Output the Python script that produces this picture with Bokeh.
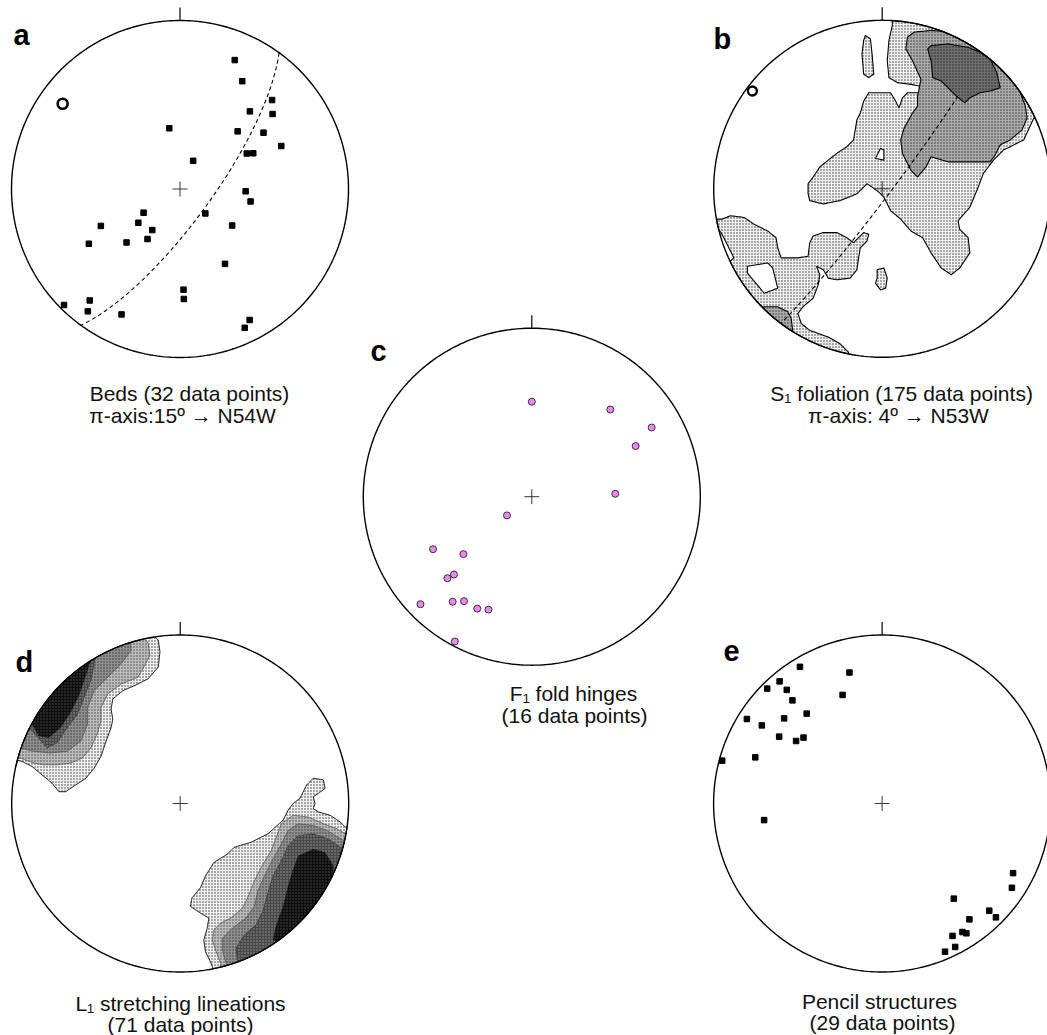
import numpy as np
from bokeh.plotting import figure
from bokeh.models import Range1d
from bokeh.core.properties import value
from bokeh.embed import file_html
from bokeh.resources import INLINE

# ---------------- data (trend / plunge in degrees) ----------------
A_TREND = [23, 30, 46, 42, 51, 350, 45, 56, 67, 62, 64, 25, 92, 100, 134, 237,
           231, 245, 214, 125, 213, 239, 225, 149, 178, 178, 225, 219, 217, 205, 152, 155]
A_PLUNGE = [18, 27, 25, 38, 30, 60, 50, 40, 35, 53, 50, 75, 58, 55, 73, 69,
            64, 47, 66, 59, 61, 37, 53, 47, 40, 35, 3, 16, 10, 19, 13, 10]
A_PI = (306, 15)          # pi-axis: 15 -> N54W
B_PI = (307, 4)           # pi-axis: 4 -> N53W

C_TREND = [0, 42, 60, 64, 88, 233, 242, 230, 225, 226, 226, 217, 213, 206, 201, 208]
C_PLUNGE = [43, 31, 19, 32, 49, 75, 34, 46, 35, 31, 9, 23, 27, 27, 29, 3]

E_TREND = [329, 346, 320, 315, 320, 340, 319, 320, 302, 311, 303, 303, 310, 306,
           290, 285, 262, 118, 123, 143, 143, 135, 135, 152, 148, 147, 153, 157]
E_PLUNGE = [6, 21, 6, 4, 13, 32, 20, 31, 6, 24, 16, 28, 39, 37,
            21, 2, 30, 13, 9, 30, 15, 11, 5, 12, 11, 9, 5, 5]

# ---------------- density contours (east, north; units of net radius) ----------------
B_L1_MAIN = [(0.06, 1.05), (1.09, 1.05), (1.09, 0.43), (0.90, 0.42), (0.84, 0.29), (0.72, 0.23),
             (0.66, 0.17), (0.60, 0.09), (0.57, 0.01), (0.52, -0.11), (0.45, -0.19), (0.46, -0.24),
             (0.51, -0.29), (0.52, -0.38), (0.46, -0.47), (0.41, -0.51), (0.35, -0.47), (0.29, -0.38),
             (0.24, -0.29), (0.17, -0.25), (0.11, -0.18), (0.05, -0.13), (0.01, -0.05), (-0.02, -0.02),
             (-0.06, 0.01), (-0.09, 0.03), (-0.15, -0.03), (-0.25, -0.07), (-0.35, -0.09), (-0.43, -0.07),
             (-0.44, -0.03), (-0.44, 0.03), (-0.41, 0.07), (-0.37, 0.13), (-0.32, 0.17), (-0.27, 0.21),
             (-0.21, 0.25), (-0.17, 0.29), (-0.16, 0.35), (-0.15, 0.41), (-0.13, 0.45), (-0.11, 0.52),
             (-0.08, 0.57), (-0.01, 0.57), (0.05, 0.57), (0.08, 0.52), (0.10, 0.48), (0.12, 0.54),
             (0.15, 0.57), (0.22, 0.57), (0.24, 0.60), (0.22, 0.61), (0.17, 0.62), (0.09, 0.63),
             (0.04, 0.66), (0.03, 0.76), (0.04, 0.88), (0.06, 0.97)]
B_L1_MAIN_HOLE = [(-0.04, 0.18), (-0.01, 0.24), (0.01, 0.23), (0.01, 0.17)]
B_L1_TOP = [(-0.10, 0.91), (-0.07, 0.89), (-0.06, 0.80), (-0.05, 0.68), (-0.08, 0.66),
            (-0.11, 0.68), (-0.12, 0.80), (-0.11, 0.88)]
B_L1_SMALL = [(-0.03, -0.48), (0.01, -0.47), (0.03, -0.53), (0.02, -0.59), (-0.01, -0.60),
              (-0.04, -0.56), (-0.03, -0.53)]
B_L1_SW = [(-1.01, -0.18), (-0.95, -0.18), (-0.90, -0.16), (-0.82, -0.17), (-0.76, -0.21),
           (-0.68, -0.25), (-0.63, -0.29), (-0.62, -0.35), (-0.60, -0.41), (-0.50, -0.41),
           (-0.44, -0.40), (-0.43, -0.32), (-0.41, -0.28), (-0.35, -0.26), (-0.27, -0.26),
           (-0.21, -0.29), (-0.17, -0.32), (-0.11, -0.26), (-0.08, -0.27), (-0.09, -0.31),
           (-0.13, -0.35), (-0.14, -0.41), (-0.15, -0.48), (-0.19, -0.53), (-0.27, -0.54),
           (-0.32, -0.53), (-0.35, -0.48), (-0.39, -0.46), (-0.37, -0.51), (-0.38, -0.57),
           (-0.41, -0.65), (-0.47, -0.70), (-0.50, -0.74), (-0.48, -0.80), (-0.43, -0.84),
           (-0.32, -0.88), (-0.25, -0.92), (-0.20, -0.97), (-0.20, -1.10), (-1.10, -0.60),
           (-0.88, -0.41), (-0.90, -0.37), (-0.94, -0.29), (-0.97, -0.24)]
B_L1_SW_HOLE = [(-0.80, -0.46), (-0.68, -0.44), (-0.65, -0.47), (-0.62, -0.59), (-0.70, -0.62),
                (-0.75, -0.56), (-0.80, -0.50)]
B_L2_NE = [(0.15, 0.90), (0.19, 0.93), (0.29, 0.94), (0.41, 0.93), (0.52, 0.89), (0.61, 0.82),
           (0.70, 0.74), (0.77, 0.65), (0.82, 0.57), (0.85, 0.49), (0.86, 0.42), (0.83, 0.35),
           (0.76, 0.29), (0.70, 0.26), (0.67, 0.20), (0.64, 0.16), (0.49, 0.16), (0.39, 0.16),
           (0.29, 0.19), (0.26, 0.13), (0.21, 0.07), (0.17, 0.11), (0.12, 0.21), (0.11, 0.29),
           (0.13, 0.36), (0.18, 0.45), (0.21, 0.49), (0.21, 0.55), (0.23, 0.65), (0.18, 0.76),
           (0.14, 0.83)]
B_L2_SW = [(-0.70, -0.70), (-0.62, -0.70), (-0.56, -0.73), (-0.54, -0.77), (-0.53, -0.85),
           (-0.60, -0.95), (-0.80, -0.75)]
B_L3_NE = [(0.27, 0.83), (0.29, 0.85), (0.39, 0.86), (0.51, 0.84), (0.58, 0.81), (0.64, 0.77),
           (0.68, 0.69), (0.70, 0.60), (0.64, 0.58), (0.58, 0.57), (0.52, 0.54), (0.49, 0.51),
           (0.44, 0.55), (0.41, 0.58), (0.35, 0.64), (0.30, 0.66), (0.29, 0.76)]

D_NW_L1 = [(-0.19, 1.03), (-0.13, 0.97), (-0.12, 0.90), (-0.13, 0.81), (-0.19, 0.74), (-0.27, 0.70),
           (-0.34, 0.67), (-0.40, 0.62), (-0.41, 0.56), (-0.40, 0.50), (-0.41, 0.45), (-0.44, 0.37),
           (-0.47, 0.28), (-0.51, 0.21), (-0.56, 0.15), (-0.62, 0.11), (-0.68, 0.07), (-0.72, 0.07),
           (-0.76, 0.12), (-0.82, 0.17), (-0.88, 0.22), (-0.94, 0.25), (-0.98, 0.26),
           (-1.10, 0.25), (-1.10, 1.10), (-0.19, 1.10)]
D_NW_L2 = [(-0.25, 1.04), (-0.19, 0.95), (-0.18, 0.88), (-0.21, 0.82), (-0.25, 0.75), (-0.35, 0.71),
           (-0.43, 0.65), (-0.47, 0.57), (-0.47, 0.49), (-0.49, 0.42), (-0.53, 0.33), (-0.58, 0.27),
           (-0.65, 0.24), (-0.73, 0.23), (-0.81, 0.23), (-0.87, 0.24), (-0.95, 0.27),
           (-1.10, 0.27), (-1.10, 1.10), (-0.25, 1.10)]
D_NW_L3 = [(-0.31, 1.06), (-0.29, 0.91), (-0.35, 0.83), (-0.43, 0.75), (-0.51, 0.67), (-0.55, 0.57),
           (-0.55, 0.47), (-0.59, 0.37), (-0.67, 0.31), (-0.77, 0.30), (-0.87, 0.31), (-0.95, 0.33),
           (-1.10, 0.33), (-1.10, 1.10), (-0.31, 1.10)]
D_NW_L4 = [(-0.50, 0.91), (-0.51, 0.83), (-0.53, 0.73), (-0.57, 0.63), (-0.61, 0.53), (-0.67, 0.45),
           (-0.73, 0.36), (-0.79, 0.33), (-0.87, 0.42), (-0.90, 0.45), (-1.10, 0.45), (-0.50, 1.10)]
D_NW_L5 = [(-0.52, 0.88), (-0.56, 0.76), (-0.60, 0.64), (-0.65, 0.54), (-0.71, 0.45), (-0.78, 0.39),
           (-0.84, 0.40), (-0.89, 0.49), (-0.85, 0.75)]
D_SE_L1 = [(0.21, -1.02), (0.18, -0.94), (0.15, -0.88), (0.14, -0.81), (0.16, -0.74), (0.17, -0.68),
           (0.12, -0.65), (0.06, -0.61), (0.07, -0.56), (0.12, -0.50), (0.15, -0.43), (0.20, -0.35),
           (0.28, -0.30), (0.32, -0.26), (0.42, -0.23), (0.52, -0.18), (0.61, -0.10), (0.64, -0.04),
           (0.67, 0.00), (0.71, 0.03), (0.75, 0.11), (0.79, 0.15), (0.85, 0.14), (0.86, 0.09),
           (0.82, 0.06), (0.79, 0.04), (0.80, 0.00), (0.79, -0.03), (0.82, -0.05), (0.89, -0.07),
           (0.95, -0.11), (0.99, -0.15), (1.10, -0.15), (1.10, -1.10), (0.21, -1.10)]
D_SE_L2 = [(0.24, -1.02), (0.24, -0.95), (0.21, -0.87), (0.19, -0.81), (0.20, -0.75), (0.24, -0.71),
           (0.30, -0.68), (0.37, -0.62), (0.40, -0.56), (0.44, -0.46), (0.48, -0.38), (0.54, -0.28),
           (0.57, -0.20), (0.60, -0.12), (0.67, -0.07), (0.76, -0.08), (0.85, -0.12), (0.93, -0.15),
           (0.98, -0.18), (1.10, -0.18), (1.10, -1.10), (0.24, -1.10)]
D_SE_L3 = [(0.29, -1.02), (0.27, -0.94), (0.25, -0.87), (0.25, -0.80), (0.31, -0.74), (0.39, -0.68),
           (0.44, -0.61), (0.46, -0.52), (0.50, -0.43), (0.55, -0.33), (0.60, -0.24), (0.64, -0.16),
           (0.70, -0.12), (0.79, -0.13), (0.87, -0.16), (0.97, -0.22), (1.10, -0.22), (1.10, -1.10),
           (0.29, -1.10)]
D_SE_L4 = [(0.36, -1.02), (0.34, -0.93), (0.33, -0.86), (0.38, -0.78), (0.45, -0.72), (0.49, -0.64),
           (0.52, -0.53), (0.55, -0.43), (0.60, -0.34), (0.64, -0.25), (0.70, -0.19), (0.79, -0.18),
           (0.88, -0.21), (0.95, -0.26), (1.10, -0.26), (1.10, -1.10), (0.36, -1.10)]
D_SE_L5 = [(0.70, -0.31), (0.79, -0.27), (0.86, -0.29), (0.91, -0.37), (0.90, -0.49), (0.84, -0.61),
           (0.76, -0.71), (0.67, -0.80), (0.60, -0.84), (0.55, -0.81), (0.57, -0.72), (0.61, -0.61),
           (0.64, -0.49), (0.67, -0.39)]

PANEL_LABELS = ["a", "b", "c", "d", "e"]
CAPTIONS = ["Beds (32 data points)", "π-axis:15º → N54W",
            "S₁ foliation (175 data points)", "π-axis: 4º → N53W",
            "F₁ fold hinges", "(16 data points)",
            "L₁ stretching lineations", "(71 data points)",
            "Pencil structures", "(29 data points)"]

# ---------------- layout (page pixels) ----------------
W, H = 1047, 1035
R = 168.5
CENTERS = {"a": (179.5, 188.5), "b": (881.7, 188.3), "c": (531.3, 496.2),
           "d": (179.7, 803.0), "e": (881.6, 803.0)}
LABEL_POS = {"a": (13, 34), "b": (713, 38), "c": (370, 350), "d": (15, 661), "e": (723, 650)}
CAPTION_POS = [(189, 393), (182, 415), (901, 393), (898, 415), (573, 693), (574, 715),
               (180, 1003), (180, 1024), (879, 1001), (882, 1022)]

FONT = value("Liberation Sans")

p = figure(width=W, height=H, x_range=Range1d(0, W), y_range=Range1d(H, 0),
           output_backend="svg", toolbar_location=None, min_border=0,
           x_axis_type=None, y_axis_type=None)
p.outline_line_color = None
p.xgrid.visible = False
p.ygrid.visible = False
p.background_fill_color = "white"
p.border_fill_color = "white"


def project(trend, plunge, net):
    cx, cy = CENTERS[net]
    t = np.radians(np.asarray(trend, float))
    pl = np.radians(np.asarray(plunge, float))
    r = np.sqrt(2.0) * np.sin((np.pi / 2 - pl) / 2)
    return cx + R * r * np.sin(t), cy - R * r * np.cos(t)


def to_net(ring, net):
    """Densify a contour ring and pull any part lying beyond the primitive onto it."""
    cx, cy = CENTERS[net]
    arr = np.asarray(ring, float)
    closed = np.vstack([arr, arr[:1]])
    pts = []
    for a, b in zip(closed[:-1], closed[1:]):
        n = max(2, int(np.ceil(np.hypot(*(b - a)) / 0.01)))
        t = np.linspace(0, 1, n, endpoint=False)[:, None]
        pts.append(a + t * (b - a))
    pts = np.vstack(pts)
    r = np.hypot(pts[:, 0], pts[:, 1])
    scale = np.where(r > 1.0, 1.0 / r, 1.0)
    pts = pts * scale[:, None]
    return list(cx + R * pts[:, 0]), list(cy - R * pts[:, 1])


def great_circle(pole, n=241):
    ptr, ppl = pole
    dipdir = np.radians(ptr + 180.0)
    dip = np.radians(90.0 - ppl)
    strike = dipdir - np.pi / 2
    s = np.array([np.sin(strike), np.cos(strike), 0.0])
    d = np.array([np.sin(dipdir) * np.cos(dip), np.cos(dipdir) * np.cos(dip), -np.sin(dip)])
    t = np.linspace(0, np.pi, n)
    v = np.outer(np.cos(t), s) + np.outer(np.sin(t), d)
    tr = np.degrees(np.arctan2(v[:, 0], v[:, 1]))
    pl = np.degrees(np.arcsin(np.clip(-v[:, 2], -1, 1)))
    return tr, pl


def draw_poly(net, rings, fill, hatch_color, line_color="black", line_width=1.1, hatch="dot",
              scale=3.0, weight=1.4):
    xs, ys = [], []
    for ring in rings:
        x, y = to_net(ring, net)
        xs.append(x)
        ys.append(y)
    p.multi_polygons(xs=[[xs]], ys=[[ys]], fill_color=fill, line_color=line_color,
                     line_width=line_width, hatch_pattern=hatch, hatch_color=hatch_color,
                     hatch_scale=scale, hatch_weight=weight)


LIGHT = dict(fill="#f0f0f0", hatch_color="#363636")

# --- net b contours ---
draw_poly("b", [B_L1_MAIN, B_L1_MAIN_HOLE], **LIGHT)
draw_poly("b", [B_L1_TOP], **LIGHT)
draw_poly("b", [B_L1_SMALL], **LIGHT)
draw_poly("b", [B_L1_SW, B_L1_SW_HOLE], **LIGHT)
draw_poly("b", [B_L2_NE], fill="#acacac", hatch_color="#333333")
draw_poly("b", [B_L2_SW], fill="#acacac", hatch_color="#333333")
gx, gy = project(*great_circle(B_PI), "b")
p.line(gx, gy, line_color="black", line_width=1.1, line_dash="4 3")
draw_poly("b", [B_L3_NE], fill="#707070", hatch_color="#222222")

# --- net d contours ---
draw_poly("d", [D_NW_L1], line_width=0.9, **LIGHT)
draw_poly("d", [D_SE_L1], line_width=0.9, **LIGHT)
draw_poly("d", [D_NW_L2], fill="#bdbdbd", hatch_color="#444444", line_color="#555555", line_width=0.8)
draw_poly("d", [D_SE_L2], fill="#bdbdbd", hatch_color="#444444", line_color="#555555", line_width=0.8)
draw_poly("d", [D_NW_L3], fill="#909090", hatch_color="#333333", line_color="#555555", line_width=0.8)
draw_poly("d", [D_SE_L3], fill="#909090", hatch_color="#333333", line_color="#555555", line_width=0.8)
draw_poly("d", [D_NW_L4], fill="#474747", hatch_color="#9a9a9a", line_color="#333333", line_width=0.6)
draw_poly("d", [D_SE_L4], fill="#474747", hatch_color="#9a9a9a", line_color="#333333", line_width=0.6)
draw_poly("d", [D_NW_L5], fill="#0e0e0e", hatch_color="#505050", line_color=None, line_width=0.6)
draw_poly("d", [D_SE_L5], fill="#0e0e0e", hatch_color="#505050", line_color=None, line_width=0.6)

# --- primitive circles, north ticks, centre crosses ---
theta = np.linspace(0, 2 * np.pi, 361)
for net, (cx, cy) in CENTERS.items():
    p.line(list(cx + R * np.cos(theta)), list(cy + R * np.sin(theta)),
           line_color="black", line_width=1.4)
    p.line([cx, cx], [cy - R, cy - R - 13], line_color="black", line_width=1.2)
    p.scatter([cx], [cy], marker="cross", size=15, line_color="#222222", line_width=0.9)

# --- net a ---
gx, gy = project(*great_circle(A_PI), "a")
p.line(gx, gy, line_color="black", line_width=1.1, line_dash="4 3")
ax, ay = project(A_TREND, A_PLUNGE, "a")
p.scatter(ax, ay, marker="square", size=5.5, fill_color="black", line_color="black")
px_, py_ = project([A_PI[0]], [A_PI[1]], "a")
p.scatter(px_, py_, marker="circle", size=10, fill_color=None, line_color="black", line_width=2.6)

# --- net b pi-axis ---
px_, py_ = project([B_PI[0]], [B_PI[1]], "b")
p.scatter(px_, py_, marker="circle", size=9, fill_color=None, line_color="black", line_width=2.3)

# --- net c ---
cxs, cys = project(C_TREND, C_PLUNGE, "c")
p.scatter(cxs, cys, marker="circle", size=7, fill_color="#ee88ee", line_color="#222222", line_width=0.9)

# --- net e ---
exs, eys = project(E_TREND, E_PLUNGE, "e")
p.scatter(exs, eys, marker="square", size=5.5, fill_color="black", line_color="black")

# --- texts ---
for lab in PANEL_LABELS:
    x, y = LABEL_POS[lab]
    p.text([x], [y], text=[lab], text_font=FONT, text_font_style="bold", text_font_size="29px",
           text_align="left", text_baseline="alphabetic", text_color="black")

p.text([c[0] for c in CAPTION_POS], [c[1] for c in CAPTION_POS], text=CAPTIONS, text_font=FONT,
       text_font_size="21px", text_align="center", text_baseline="alphabetic", text_color="#111111")

open("out.html", "w").write(file_html(p, INLINE))
